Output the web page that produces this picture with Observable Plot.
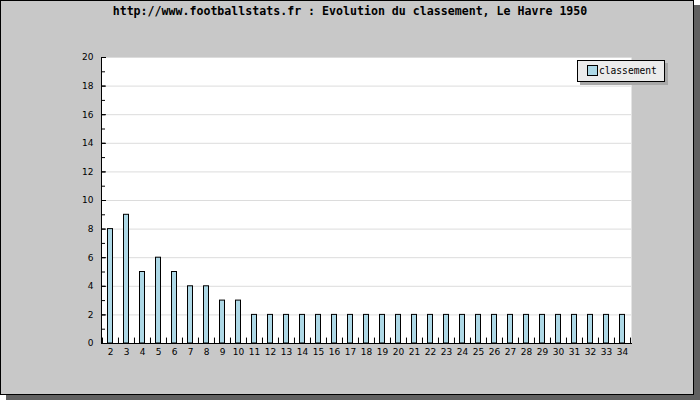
<!DOCTYPE html>
<html>
<head>
<meta charset="utf-8">
<script src="https://cdn.jsdelivr.net/npm/d3@7"></script>
<script src="https://cdn.jsdelivr.net/npm/@observablehq/plot@0.6"></script>
<style>
  html, body { margin: 0; padding: 0; background: #ffffff; }
  #wrap { position: relative; width: 700px; height: 400px; overflow: hidden; }
  #card { position: absolute; left: 0; top: 0; width: 694px; height: 395px; box-sizing: border-box;
          border: 1px solid #000; background: #c8c8c8; box-shadow: 6px 5px 0 #606060; }
  #title { position: absolute; left: 0; top: 0; width: 700px; height: 24px; line-height: 23px; text-align: center;
           font-family: "DejaVu Sans Mono", monospace; font-weight: bold; font-size: 11.6px; color: #000; }
  #chart { position: absolute; left: 0; top: 24px; }
  #legend { position: absolute; left: 577px; top: 60px; width: 88px; height: 22px; box-sizing: border-box;
            border: 1px solid #000; background: #ebebeb; box-shadow: 3px 3px 0 #a8a8a8;
            font-family: "DejaVu Sans Mono", monospace; font-size: 9.6px; color: #000; }
  #legend .sw { position: absolute; left: 9px; top: 4px; width: 11px; height: 11px; box-sizing: border-box;
                border: 1px solid #000; background: #add8e6; }
  #legend .tx { position: absolute; left: 21px; top: 3px; line-height: 13px; }
</style>
</head>
<body>
<div id="wrap">
  <div id="card"></div>
  <div id="title">http://www.footballstats.fr : Evolution du classement, Le Havre 1950</div>
  <div id="chart"></div>
  <div id="legend"><div class="sw"></div><div class="tx">classement</div></div>
</div>
<script>
const rounds = [2, 3, 4, 5, 6, 7, 8, 9, 10, 11, 12, 13, 14, 15, 16, 17, 18, 19, 20, 21, 22, 23, 24, 25, 26, 27, 28, 29, 30, 31, 32, 33, 34];
const classement = [8, 9, 5, 6, 5, 4, 4, 3, 3, 2, 2, 2, 2, 2, 2, 2, 2, 2, 2, 2, 2, 2, 2, 2, 2, 2, 2, 2, 2, 2, 2, 2, 2];
const yLabels = [0, 2, 4, 6, 8, 10, 12, 14, 16, 18, 20];
const yMinor = [0, 1, 2, 3, 4, 5, 6, 7, 8, 9, 10, 11, 12, 13, 14, 15, 16, 17, 18, 19, 20];
const yGrid = [2, 4, 6, 8, 10, 12, 14, 16, 18, 20];

const data = rounds.map((r, i) => ({round: r, value: classement[i]}));
const W = 700, H = 376, mL = 101, mR = 69, mT = 33, mB = 57;
const step = (W - mL - mR) / rounds.length;
const font = "DejaVu Sans, sans-serif";

const chart = Plot.plot({
  width: W, height: H,
  marginLeft: mL, marginRight: mR, marginTop: mT, marginBottom: mB,
  style: {background: "transparent", fontFamily: font, fontSize: "9px", color: "#000"},
  x: {type: "band", domain: rounds, padding: 0, axis: null, label: null},
  y: {domain: [0, 20], axis: null, label: null},
  marks: [
    Plot.frame({fill: "white", stroke: null}),
    Plot.gridY(yGrid, {stroke: "#dcdcdc", strokeOpacity: 1}),
    Plot.barY(data, {x: "round", y: "value", fill: "#add8e6", stroke: "#000", strokeWidth: 1, insetLeft: 5.5, insetRight: 5.5}),
    Plot.ruleX(rounds, {x: d => d, y1: 0, y2: 0.38, dx: -step / 2, stroke: "#000"}),
    Plot.ruleX([rounds[rounds.length - 1]], {x: d => d, y1: 0, y2: 0.38, dx: step / 2, stroke: "#000"}),
    Plot.axisY(yMinor, {anchor: "left", tickSize: 4, dx: 4, tickFormat: () => "", stroke: "#000", label: null}),
    Plot.axisY(yLabels, {anchor: "left", tickSize: 5, dx: 5, tickFormat: () => "", stroke: "#000", label: null}),
    Plot.axisY(yLabels, {anchor: "left", tickSize: 0, tickPadding: 8, fontSize: 9, fill: "#000", label: null}),
    Plot.axisX(rounds, {anchor: "bottom", tickSize: 0, tickPadding: 5, fontSize: 9, fill: "#000", label: null}),
    Plot.frame({anchor: "left", stroke: "#000"}),
    Plot.frame({anchor: "bottom", stroke: "#000"})
  ]
});
document.getElementById("chart").appendChild(chart);
</script>
</body>
</html>
